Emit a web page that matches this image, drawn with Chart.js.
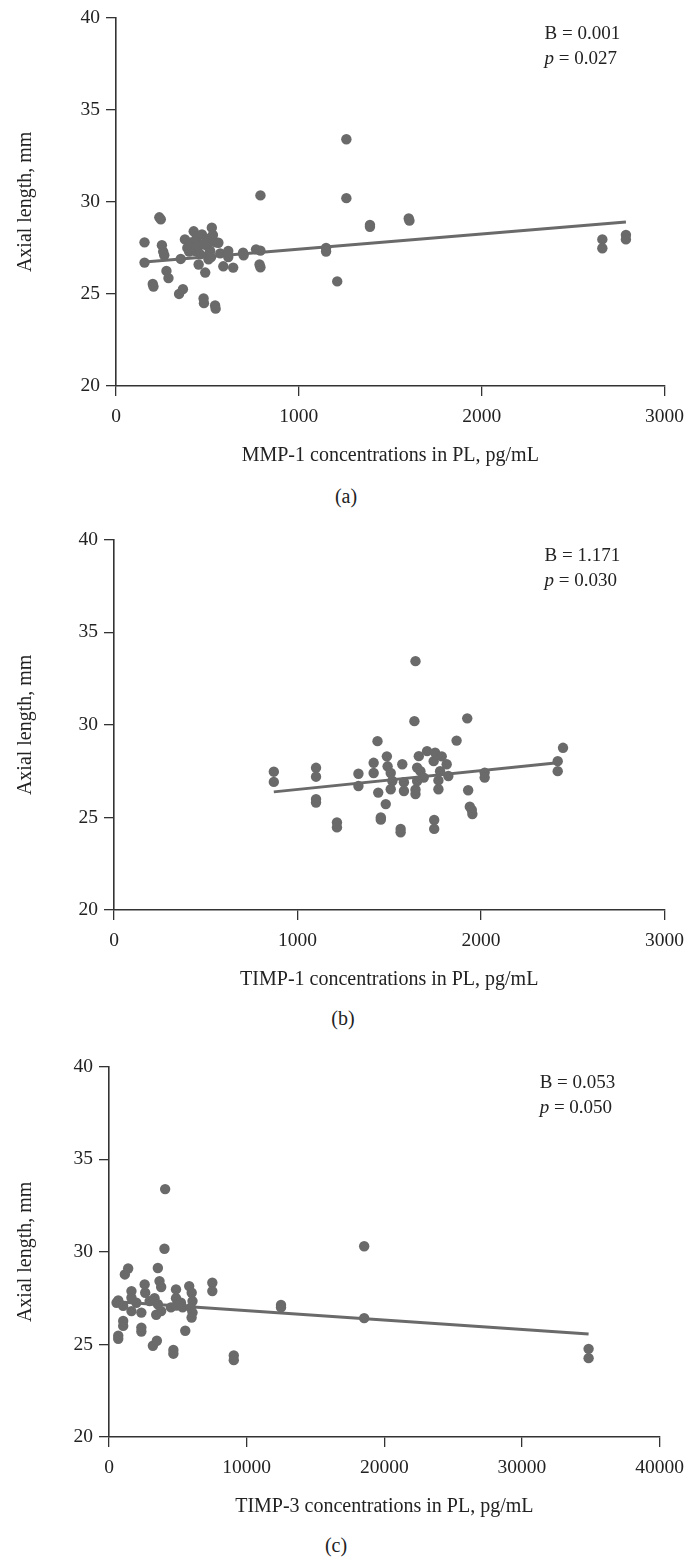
<!DOCTYPE html>
<html>
<head>
<meta charset="utf-8">
<script src="https://cdn.jsdelivr.net/npm/chart.js@4/dist/chart.umd.min.js"></script>
<style>
  body { margin: 0; background: #fff; width: 693px; height: 1561px; position: relative; overflow: hidden; }
  .panel { position: absolute; left: 0; }
  .caption {
    position: absolute;
    font-family: "Liberation Serif", serif;
    font-size: 20px;
    color: #222;
    transform: translate(-50%, -50%);
  }
</style>
</head>
<body>
<div class="panel" style="top:0px"><canvas id="chartA" width="693" height="470"></canvas></div>
<div class="caption" style="left:346px; top:496px">(a)</div>
<div class="panel" style="top:522px"><canvas id="chartB" width="693" height="472"></canvas></div>
<div class="caption" style="left:343px; top:1018px">(b)</div>
<div class="panel" style="top:1049px"><canvas id="chartC" width="693" height="472"></canvas></div>
<div class="caption" style="left:336px; top:1545px">(c)</div>

<script>
// (a) MMP-1
const mmp1X = [156, 156, 237, 245, 251, 258, 264, 276, 287, 201, 205, 345, 366, 354, 377, 390, 400, 410, 425, 434,
  440, 452, 461, 452, 470, 479, 479, 481, 488, 497, 500, 506, 506, 515, 520, 524, 530, 545, 542, 545,
  560, 570, 587, 614, 614, 641, 695, 698, 766, 790, 785, 790, 790, 1149, 1149, 1210, 1260, 1260, 1389, 1389,
  1601, 1605, 2660, 2660, 2789, 2789];
const mmp1Y = [27.8, 26.7, 29.16, 29.05, 27.65, 27.3, 27.1, 26.25, 25.86, 25.54, 25.4, 25.0, 25.26, 26.9, 27.96, 27.5, 27.3, 27.8, 28.4, 27.33,
  28.0, 27.6, 27.15, 26.6, 28.23, 27.7, 24.75, 24.5, 26.16, 28.0, 27.6, 26.88, 27.1, 27.33, 27.0, 28.6, 28.2, 27.8, 24.37, 24.2,
  27.78, 27.2, 26.5, 27.33, 27.0, 26.43, 27.24, 27.1, 27.42, 27.35, 26.6, 26.45, 30.35, 27.5, 27.3, 25.68, 33.4, 30.2, 28.75, 28.65,
  29.1, 28.98, 27.96, 27.48, 28.2, 27.96];
const mmp1Fit = [[156, 26.74], [2789, 28.9]];

// (b) TIMP-1
const timp1X = [871, 871, 1101, 1101, 1101, 1101, 1215, 1215, 1332, 1332, 1415, 1415, 1436, 1440, 1454, 1454, 1481, 1487, 1491, 1508,
  1517, 1508, 1562, 1562, 1571, 1580, 1580, 1637, 1643, 1643, 1643, 1652, 1661, 1670, 1688, 1652, 1706, 1742, 1745, 1745,
  1750, 1768, 1768, 1777, 1786, 1813, 1822, 1867, 1925, 1930, 1939, 1953, 1950, 2020, 2020, 2418, 2418, 2447];
const timp1Y = [27.47, 26.92, 27.68, 27.2, 25.99, 25.8, 24.73, 24.46, 27.36, 26.7, 27.95, 27.4, 29.12, 26.34, 25.0, 24.88, 25.72, 28.3, 27.76, 27.4,
  26.97, 26.52, 24.38, 24.2, 27.87, 26.9, 26.43, 30.2, 33.44, 26.26, 26.5, 27.69, 28.31, 27.5, 27.15, 26.97, 28.58, 28.04, 24.86, 24.38,
  28.5, 27.0, 26.52, 27.5, 28.3, 27.87, 27.24, 29.15, 30.35, 26.47, 25.58, 25.18, 25.4, 27.42, 27.15, 28.04, 27.5, 28.76];
const timp1Fit = [[871, 26.38], [2418, 27.95]];

// (c) TIMP-3
const timp3X = [551, 671, 671, 671, 1031, 1031, 1031, 1151, 1391, 1631, 1631, 1631, 1990, 2350, 2350, 2350, 2590, 2630, 2950, 3189,
  3309, 3429, 3477, 3549, 3549, 3669, 3789, 3789, 4029, 4079, 4500, 4676, 4676, 4868, 4868, 4900, 5228, 5348, 5540, 5827,
  5948, 6007, 6067, 6067, 6000, 7506, 7506, 9065, 9065, 12496, 12496, 18537, 18537, 34840, 34840];
const timp3Y = [27.25, 27.38, 25.47, 25.3, 27.08, 26.27, 26.0, 28.78, 29.1, 27.88, 27.52, 26.8, 27.25, 26.72, 25.91, 25.7, 28.24, 27.79, 27.34, 24.93,
  27.5, 26.6, 25.2, 29.13, 27.17, 28.42, 28.1, 26.8, 30.17, 33.39, 27.0, 24.7, 24.5, 27.97, 27.5, 27.1, 27.25, 27.0, 25.74, 28.15,
  26.98, 27.79, 27.34, 26.72, 26.45, 28.33, 27.88, 24.4, 24.15, 27.13, 27.0, 30.3, 26.42, 24.76, 24.26];
const timp3Fit = [[550, 27.3], [34840, 25.56]];

const yTicks = [20, 25, 30, 35, 40];
const xTitles = ["MMP-1 concentrations in PL, pg/mL", "TIMP-1 concentrations in PL, pg/mL", "TIMP-3 concentrations in PL, pg/mL"];
const bValues = ["0.001", "1.171", "0.053"];
const pValues = ["0.027", "0.030", "0.050"];

const FONT = "'Liberation Serif', 'Times New Roman', serif";
const dotColor = "#6a6a6a";
const axisColor = "#333333";
const textColor = "#222222";

const statsText = {
  id: "statsText",
  afterDraw(chart, args, opts) {
    const { ctx, chartArea } = chart;
    const x = chartArea.right - 120;
    ctx.save();
    ctx.fillStyle = textColor;
    ctx.textBaseline = "middle";
    ctx.font = "19px " + FONT;
    ctx.fillText("B = " + opts.b, x, chartArea.top + 16);
    ctx.font = "italic 19px " + FONT;
    ctx.fillText("p", x, chartArea.top + 41);
    const w = ctx.measureText("p").width;
    ctx.font = "19px " + FONT;
    ctx.fillText(" = " + opts.p, x + w, chartArea.top + 41);
    ctx.restore();
  },
};

function makeChart(id, xs, ys, fit, xMax, xStep, axisLeft, padRight, plotH, idx) {
  const points = xs.map((x, i) => ({ x: x, y: ys[i] }));
  const canvas = document.getElementById(id);
  const H = canvas.height;

  return new Chart(canvas.getContext("2d"), {
    type: "scatter",
    data: {
      datasets: [
        {
          data: points,
          backgroundColor: dotColor,
          borderWidth: 0,
          pointRadius: 5.2,
        },
        {
          type: "line",
          data: fit.map((p) => ({ x: p[0], y: p[1] })),
          borderColor: dotColor,
          borderWidth: 3,
          pointRadius: 0,
          fill: false,
        },
      ],
    },
    options: {
      responsive: false,
      animation: false,
      layout: { padding: { top: 15, right: padRight, left: 0, bottom: 0 } },
      scales: {
        x: {
          type: "linear",
          min: 0,
          max: xMax,
          afterFit: (s) => { s.height = H - 15 - plotH; },
          ticks: {
            stepSize: xStep,
            color: textColor,
            padding: 9,
            font: { family: FONT, size: 19.5 },
            callback: (v) => String(v),
          },
          grid: { drawOnChartArea: false, drawTicks: true, tickLength: 10, color: axisColor, lineWidth: 1.3 },
          border: { color: axisColor, width: 1.6 },
          title: {
            display: true,
            text: xTitles[idx],
            color: textColor,
            font: { family: FONT, size: 20 },
            padding: { top: 0, bottom: 2 },
          },
        },
        y: {
          min: 20,
          max: 40,
          afterFit: (s) => { s.width = axisLeft; },
          afterBuildTicks: (s) => { s.ticks = yTicks.map((v) => ({ value: v })); },
          ticks: {
            color: textColor,
            padding: 6,
            font: { family: FONT, size: 19.5 },
            callback: (v) => String(v),
          },
          grid: { drawOnChartArea: false, drawTicks: true, tickLength: 10, color: axisColor, lineWidth: 1.3 },
          border: { color: axisColor, width: 1.6 },
          title: {
            display: true,
            text: "Axial length, mm",
            color: textColor,
            font: { family: FONT, size: 20 },
            padding: { top: 14, bottom: 0 },
          },
        },
      },
      plugins: {
        legend: { display: false },
        tooltip: { enabled: false },
        statsText: { b: bValues[idx], p: pValues[idx] },
      },
    },
    plugins: [statsText],
  });
}

makeChart("chartA", mmp1X, mmp1Y, mmp1Fit, 3000, 1000, 116, 20, 371, 0);
makeChart("chartB", timp1X, timp1Y, timp1Fit, 3000, 1000, 114, 22, 373, 1);
makeChart("chartC", timp3X, timp3Y, timp3Fit, 40000, 10000, 109, 28, 373, 2);
</script>
</body>
</html>
